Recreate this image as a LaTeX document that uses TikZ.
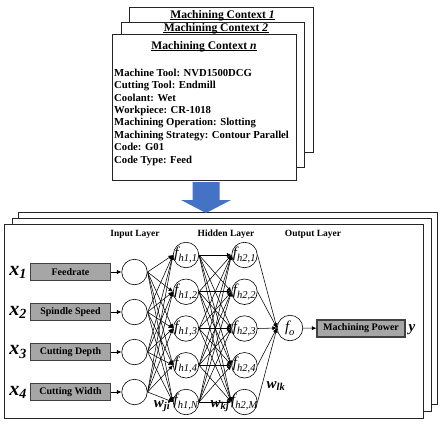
\documentclass[tikz,border=0pt]{standalone}
\usepackage{amsmath}
\usepackage{fontspec}
\setmainfont{Liberation Serif}
\usepackage{tikz}
\usetikzlibrary{arrows.meta}
\definecolor{arrowblue}{RGB}{68,114,196}
\pgfdeclarelayer{frames}
\pgfdeclarelayer{links}
\pgfsetlayers{frames,links,main}
\newcommand{\isub}[2]{$\textit{#1}_{\textit{#2}}$}
\tikzset{
    frame/.style={draw=black!85, line width=0.9pt, fill=white}, % 外框
    neuron/.style={circle, draw, line width=0.6pt, minimum size=25.5pt, inner sep=0pt, fill=white}, % 神经元
    inbox/.style={draw=black!75, line width=1.1pt, fill=black!35, minimum width=80pt, minimum height=17pt, inner sep=0pt, font=\fontsize{10}{10}\selectfont\bfseries}, % 灰色输入框
    link/.style={-{Latex[length=4.5pt,width=4pt]}, line width=0.55pt}, % 连接线
    flabel/.style={font=\fontsize{15}{15}\selectfont\mdseries}, % 神经元标签
    title/.style={anchor=base, inner sep=0pt, font=\fontsize{11.6}{11.6}\selectfont\bfseries}, % 标题
    uline/.style={line width=0.8pt, shorten <=-0.5pt, shorten >=-0.5pt} % 标题下划线
}
\begin{document}
\begin{tikzpicture}[x=1pt, y=-1pt, font=\bfseries]
    \useasboundingbox (0,0) rectangle (442,424);

    % machining contexts
    \begin{pgfonlayer}{frames}
        \draw[frame] (129,7) rectangle (313,152);
        \node[title] (ctx1) at (222.5,18) {Machining Context \textit{1}};
        \draw[uline] ([yshift=-1.5pt]ctx1.base west) -- ([yshift=-1.5pt]ctx1.base east);
        \draw[frame] (121,22) rectangle (304,167);
        \node[title] (ctx2) at (216,31.3) {Machining Context \textit{2}};
        \draw[uline] ([yshift=-1.4pt]ctx2.base west) -- ([yshift=-1.4pt]ctx2.base east);
        \draw[frame] (112,34) rectangle (296,180);
        \node[title] (ctxn) at (204,49) {Machining Context \textit{n}};
        \draw[uline] ([yshift=-1.5pt]ctxn.base west) -- ([yshift=-1.5pt]ctxn.base east);
        \foreach \t [count=\i from 0] in {Machine Tool: NVD1500DCG, Cutting Tool: Endmill, Coolant: Wet, Workpiece: CR-1018, Machining Operation: Slotting, Machining Strategy: Contour Parallel, Code: G01, Code Type: Feed}
            \node[anchor=base west, inner sep=0pt, font=\fontsize{10.7}{10.7}\selectfont\bfseries] (line\i) at (114,{76.2+12.4*\i}) {\t};

        % network frames
        \draw[frame] (18,212) rectangle (437,404);
        \draw[frame] (12,218) rectangle (431,411);
        \draw[frame] (4,224) rectangle (423,418);

        \fill[arrowblue] (192.5,182) -- (219.5,182) -- (219.5,200) -- (231,200) -- (206,213) -- (181,200) -- (192.5,200) -- cycle;
    \end{pgfonlayer}

    \node[font=\fontsize{9.5}{9.5}\selectfont\bfseries] (lin) at (135,234) {Input Layer};
    \node[font=\fontsize{9.5}{9.5}\selectfont\bfseries] (lhid) at (226,234) {Hidden Layer};
    \node[font=\fontsize{9.5}{9.5}\selectfont\bfseries] (lout) at (313,234) {Output Layer};

    % input layer
    \foreach \t [count=\i] in {Feedrate, Spindle Speed, Cutting Depth, Cutting Width} {
        \node[inbox] (box\i) at (70.5,{272+40*(\i-1)}) {\t};
        \node[font=\fontsize{20}{20}\selectfont\bfseries] (x\i) at (18,{272+40*(\i-1)}) {\isub{x}{\i}};
        \node[neuron] (in\i) at (134.5,{272+40*(\i-1)}) {};
    }

    % hidden layers
    \foreach \i/\s in {1/1,2/2,3/3,4/4,5/N} {
        \node[neuron, label={[flabel]center:{\isub{f}{h1,\s}}}] (ha\i) at (186,{255+36.75*(\i-1)}) {};
    }
    \foreach \i/\s in {1/1,2/2,3/3,4/4,5/M} {
        \node[neuron, label={[flabel]center:{\isub{f}{h2,\s}}}] (hb\i) at (244.5,{255+36.75*(\i-1)}) {};
    }
    \node[neuron, label={[flabel]center:{\isub{f}{o}}}] (out) at (290,328) {};
    \node[inbox, minimum width=88pt] (power) at (361,328.5) {Machining Power};
    \node[font=\fontsize{15}{15}\selectfont\bfseries\itshape] (y) at (412,330) {y};

    \begin{pgfonlayer}{links}
        \foreach \i in {1,...,4} {
            \draw[link] (box\i) -- (in\i);
            \foreach \j in {1,...,5} {\draw[link] (in\i.east) -- (ha\j.west);}
        }
        \foreach \i in {1,...,5} {\foreach \j in {1,...,5} {\draw[link] (ha\i.east) -- (hb\j.west);}}
        \foreach \i in {1,...,5} {\draw[link] (hb\i.east) -- (out.west);}
        \draw[link] (out) -- (power);
    \end{pgfonlayer}

    \node[font=\fontsize{15}{15}\selectfont\bfseries] (wji) at (162,406) {\isub{w}{ji}};
    \node[font=\fontsize{15}{15}\selectfont\bfseries] (wkj) at (220,406) {\isub{w}{kj}};
    \node[font=\fontsize{15}{15}\selectfont\bfseries] (wlk) at (276,386) {\isub{w}{lk}};
\end{tikzpicture}
\end{document}
